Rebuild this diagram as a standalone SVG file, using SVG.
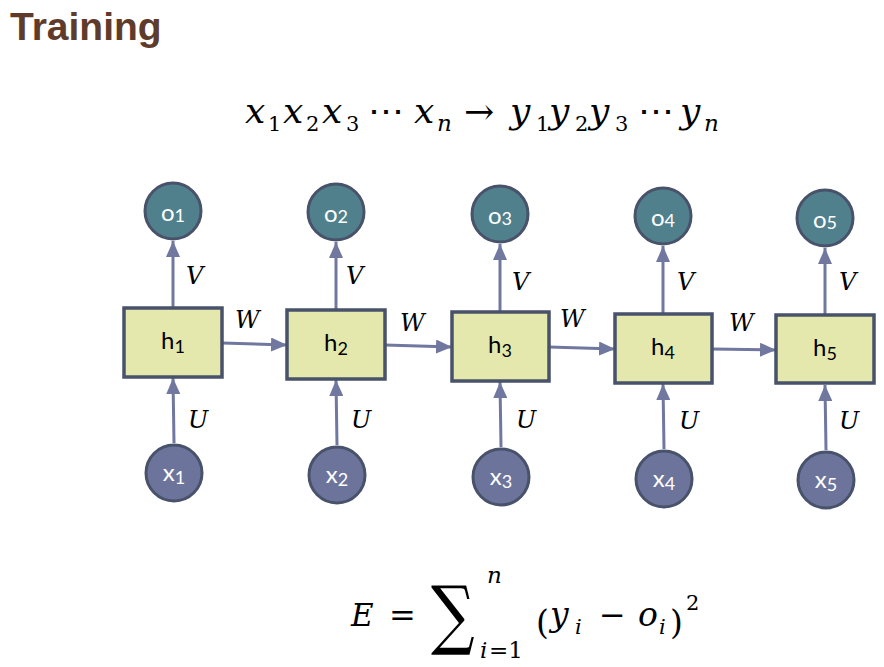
<svg xmlns="http://www.w3.org/2000/svg" width="884" height="667" viewBox="0 0 884 667">
<defs>
<style>
.title{font-family:"Liberation Sans",Arial,sans-serif;font-weight:bold;font-size:39px;fill:#5f3b2b}
.math{font-family:"DejaVu Serif","Liberation Serif",serif;font-style:italic;fill:#000}
.up{font-family:"DejaVu Serif","Liberation Serif",serif;fill:#000}
.lbl{font-family:"DejaVu Serif","Liberation Serif",serif;font-style:italic;font-size:24px;fill:#000}
.ocirc{fill:#4f808c;stroke:#48526a;stroke-width:3}
.xcirc{fill:#6c749c;stroke:#48526a;stroke-width:3}
.hbox{fill:#e4e8ad;stroke:#48526a;stroke-width:3.5}
.ntw{font-family:"Lato","Liberation Sans",sans-serif;font-size:24px;fill:#fff}
.ntb{font-family:"Lato","Liberation Sans",sans-serif;font-size:24px;fill:#000}
.conn{stroke:#7078a0;stroke-width:3;fill:none;marker-end:url(#ah)}
</style>
<marker id="ah" markerUnits="userSpaceOnUse" markerWidth="16" markerHeight="14" refX="16" refY="7" orient="auto">
<path d="M0,0 L16,7 L0,14 Z" fill="#7078a0"/>
</marker>
</defs>
<rect width="884" height="667" fill="#fff"/>
<text class="title" x="10" y="40">Training</text>

<g id="formula-top">
<text class="math" font-size="36" y="123"><tspan x="245">x</tspan><tspan x="283">x</tspan><tspan x="322">x</tspan><tspan x="414">x</tspan><tspan x="510">y</tspan><tspan x="549">y</tspan><tspan x="589">y</tspan><tspan x="680">y</tspan></text>
<text class="up" font-size="21" y="131"><tspan x="268">1</tspan><tspan x="306">2</tspan><tspan x="346">3</tspan><tspan x="536">1</tspan><tspan x="575">2</tspan><tspan x="615">3</tspan></text>
<text class="math" font-size="23" y="131"><tspan x="437">n</tspan><tspan x="704">n</tspan></text>
<text class="up" font-size="36" y="124"><tspan x="368">⋯</tspan><tspan x="638">⋯</tspan></text>
<text class="up" font-size="36" x="464" y="124">→</text>
</g>

<g id="connectors">
<line class="conn" x1="173" y1="308" x2="173" y2="241"/>
<line class="conn" x1="336" y1="310" x2="336" y2="242"/>
<line class="conn" x1="500" y1="312" x2="500" y2="244"/>
<line class="conn" x1="663" y1="314" x2="663" y2="246"/>
<line class="conn" x1="825" y1="315" x2="825" y2="248"/>
<line class="conn" x1="174" y1="443" x2="173" y2="378"/>
<line class="conn" x1="337" y1="445" x2="336" y2="380"/>
<line class="conn" x1="501" y1="447" x2="500" y2="382"/>
<line class="conn" x1="664" y1="449" x2="663" y2="384"/>
<line class="conn" x1="826" y1="450" x2="825" y2="385"/>
<line class="conn" x1="222" y1="343" x2="287" y2="345"/>
<line class="conn" x1="385" y1="345" x2="452" y2="347"/>
<line class="conn" x1="549" y1="347" x2="615" y2="349"/>
<line class="conn" x1="712" y1="349" x2="776" y2="350"/>
<text class="lbl" x="186" y="284">V</text>
<text class="lbl" x="346" y="284">V</text>
<text class="lbl" x="512" y="290">V</text>
<text class="lbl" x="677" y="290">V</text>
<text class="lbl" x="839" y="290">V</text>
<text class="lbl" x="235" y="328">W</text>
<text class="lbl" x="400" y="331">W</text>
<text class="lbl" x="560" y="327">W</text>
<text class="lbl" x="729" y="331">W</text>
<text class="lbl" x="188" y="428">U</text>
<text class="lbl" x="351" y="428">U</text>
<text class="lbl" x="516" y="428">U</text>
<text class="lbl" x="679" y="429">U</text>
<text class="lbl" x="839" y="429">U</text>
</g>

<g id="o1"><circle class="ocirc" cx="173" cy="211" r="28"/><text class="ntw" x="173" y="221" text-anchor="middle">o<tspan font-size="18" dy="1">1</tspan></text></g>
<g id="o2"><circle class="ocirc" cx="336" cy="212" r="28"/><text class="ntw" x="336" y="222" text-anchor="middle">o<tspan font-size="18" dy="1">2</tspan></text></g>
<g id="o3"><circle class="ocirc" cx="500" cy="214" r="28"/><text class="ntw" x="500" y="224" text-anchor="middle">o<tspan font-size="18" dy="1">3</tspan></text></g>
<g id="o4"><circle class="ocirc" cx="663" cy="216" r="28"/><text class="ntw" x="663" y="226" text-anchor="middle">o<tspan font-size="18" dy="1">4</tspan></text></g>
<g id="o5"><circle class="ocirc" cx="825" cy="218" r="28"/><text class="ntw" x="825" y="228" text-anchor="middle">o<tspan font-size="18" dy="1">5</tspan></text></g>

<g id="h1"><rect class="hbox" x="124" y="308" width="98" height="69"/><text class="ntb" x="173" y="349" text-anchor="middle">h<tspan font-size="18" dy="4">1</tspan></text></g>
<g id="h2"><rect class="hbox" x="287" y="310" width="98" height="69"/><text class="ntb" x="336" y="351" text-anchor="middle">h<tspan font-size="18" dy="4">2</tspan></text></g>
<g id="h3"><rect class="hbox" x="452" y="312" width="97" height="69"/><text class="ntb" x="500" y="353" text-anchor="middle">h<tspan font-size="18" dy="4">3</tspan></text></g>
<g id="h4"><rect class="hbox" x="615" y="314" width="97" height="69"/><text class="ntb" x="663" y="355" text-anchor="middle">h<tspan font-size="18" dy="4">4</tspan></text></g>
<g id="h5"><rect class="hbox" x="776" y="315" width="98" height="68"/><text class="ntb" x="825" y="356" text-anchor="middle">h<tspan font-size="18" dy="4">5</tspan></text></g>

<g id="x1"><circle class="xcirc" cx="174" cy="473" r="28"/><text class="ntw" x="174" y="481" text-anchor="middle">x<tspan font-size="18" dy="3">1</tspan></text></g>
<g id="x2"><circle class="xcirc" cx="337" cy="475" r="28"/><text class="ntw" x="337" y="483" text-anchor="middle">x<tspan font-size="18" dy="3">2</tspan></text></g>
<g id="x3"><circle class="xcirc" cx="501" cy="477" r="28"/><text class="ntw" x="501" y="485" text-anchor="middle">x<tspan font-size="18" dy="3">3</tspan></text></g>
<g id="x4"><circle class="xcirc" cx="664" cy="479" r="28"/><text class="ntw" x="664" y="487" text-anchor="middle">x<tspan font-size="18" dy="3">4</tspan></text></g>
<g id="x5"><circle class="xcirc" cx="826" cy="480" r="28"/><text class="ntw" x="826" y="488" text-anchor="middle">x<tspan font-size="18" dy="3">5</tspan></text></g>

<g id="formula-bottom">
<text class="math" font-size="31" x="351" y="626">E</text>
<text class="up" font-size="32" x="389" y="626">=</text>
<text class="up" font-size="72" x="0" y="0" transform="translate(431,640) scale(0.85,1.05)">∑</text>
<text class="math" font-size="23" x="487" y="583">n</text>
<text class="math" font-size="23" x="480" y="658">i</text>
<text class="up" font-size="23" x="489" y="658">=1</text>
<text class="up" font-size="33" x="536" y="634">(</text>
<text class="math" font-size="33" x="550" y="626">y</text>
<text class="math" font-size="21" x="575" y="634">i</text>
<text class="up" font-size="32" x="599" y="626">−</text>
<text class="math" font-size="33" x="638" y="626">o</text>
<text class="math" font-size="21" x="659" y="634">i</text>
<text class="up" font-size="33" x="670" y="634">)</text>
<text class="up" font-size="21" x="686" y="610">2</text>
</g>
</svg>
